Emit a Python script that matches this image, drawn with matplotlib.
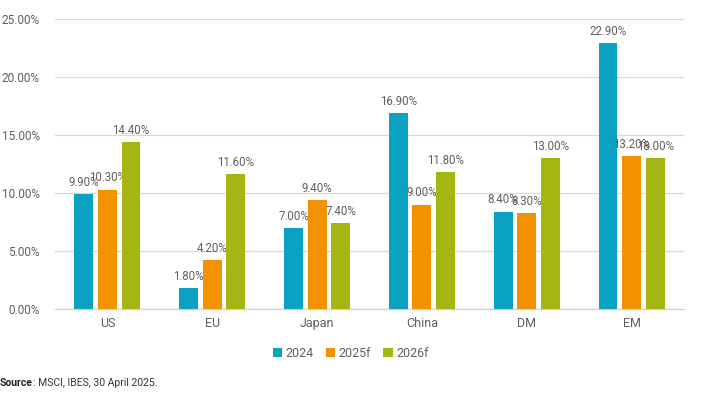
import numpy as np
import matplotlib
matplotlib.use('Agg')
import matplotlib.pyplot as plt
from matplotlib.offsetbox import TextArea, HPacker, AnchoredOffsetbox

regions = ['US', 'EU', 'Japan', 'China', 'DM', 'EM']
series = ['2024', '2025f', '2026f']
eps_2024 = [9.9, 1.8, 7.0, 16.9, 8.4, 22.9]
eps_2025f = [10.3, 4.2, 9.4, 9.0, 8.3, 13.2]
eps_2026f = [14.4, 11.6, 7.4, 11.8, 13.0, 13.0]
# labels as printed in the source (EM 2026f label reads 18.00%)
labels_2024 = ['9.90%', '1.80%', '7.00%', '16.90%', '8.40%', '22.90%']
labels_2025f = ['10.30%', '4.20%', '9.40%', '9.00%', '8.30%', '13.20%']
labels_2026f = ['14.40%', '11.60%', '7.40%', '11.80%', '13.00%', '18.00%']

colors = ['#0aa2c0', '#f39200', '#a5b612']
txt = '#5f5f5f'

plt.rcParams['font.family'] = ['Roboto', 'DejaVu Sans']

fig = plt.figure(figsize=(7.2, 3.95), dpi=100)
ax = fig.add_axes([0.0764, 0.2177, 0.8736, 0.7342])

x = np.arange(len(regions))
width = 0.18
step = 0.225
for i, (vals, labs) in enumerate(zip([eps_2024, eps_2025f, eps_2026f],
                                     [labels_2024, labels_2025f, labels_2026f])):
    pos = x + (i - 1) * step
    ax.bar(pos, vals, width=width, color=colors[i], label=series[i], zorder=3)
    for px, v, l in zip(pos, vals, labs):
        ax.text(px, v + 0.45, l, ha='center', va='bottom', fontsize=8.3, color=txt)

ax.set_xlim(-0.5, len(regions) - 0.5)
ax.set_ylim(0, 25)
ax.set_yticks(np.arange(0, 26, 5))
ax.set_yticklabels(['{:.2f}%'.format(v) for v in np.arange(0, 26, 5)])
ax.set_xticks(x)
ax.set_xticklabels(regions)
ax.tick_params(axis='both', length=0, labelsize=8.5, labelcolor=txt)
ax.tick_params(axis='y', pad=11)
ax.tick_params(axis='x', labelsize=9, pad=6)
ax.grid(axis='y', color='#d9d9d9', linewidth=0.9, zorder=0)
for s in ['top', 'right', 'left']:
    ax.spines[s].set_visible(False)
ax.spines['bottom'].set_color('#d0d0d0')
ax.spines['bottom'].set_linewidth(0.9)

ax.legend(loc='center', bbox_to_anchor=(0.47, -0.152), ncol=3, frameon=False,
          fontsize=9, handlelength=0.75, handleheight=0.75, handletextpad=0.25,
          columnspacing=1.0, labelcolor=txt)

src = HPacker(children=[
    TextArea('Source', textprops=dict(fontsize=7.5, fontweight='bold', color='#222222')),
    TextArea(': MSCI, IBES, 30 April 2025.', textprops=dict(fontsize=7.5, color='#333333')),
], pad=0, sep=0, align='baseline')
box = AnchoredOffsetbox(loc='center left', child=src, pad=0, borderpad=0, frameon=False,
                        bbox_to_anchor=(0.0, 0.031), bbox_transform=fig.transFigure)
fig.add_artist(box)

fig.savefig('out.png', dpi=100, facecolor='white')
